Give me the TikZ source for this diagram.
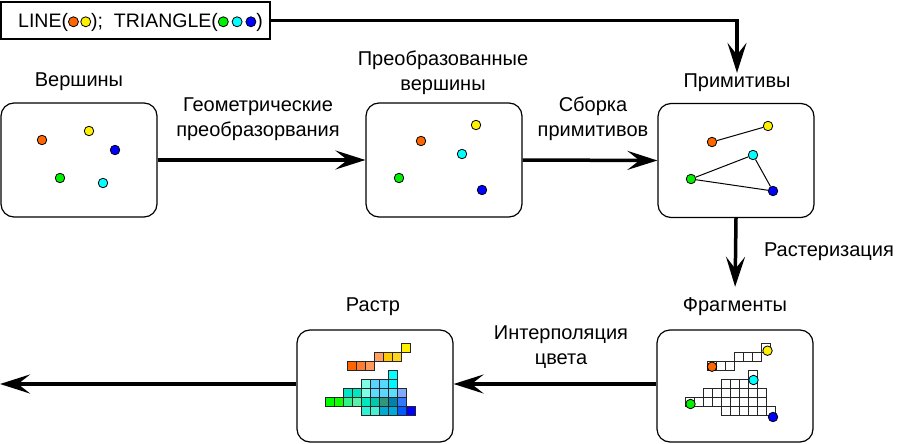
\documentclass[tikz,border=0pt]{standalone}
\usepackage{fontspec}
\setmainfont{Liberation Sans}
\usetikzlibrary{arrows.meta}
\definecolor{dO}{HTML}{FF6600}
\definecolor{dY}{HTML}{FFF000}
\definecolor{dG}{HTML}{00F000}
\definecolor{dC}{HTML}{00FFFF}
\definecolor{dB}{HTML}{0000FF}
\newcommand\tdot[1]{\tikz[baseline=-0.27em]\node[circle,draw,line width=0.8pt,fill=#1,inner sep=0pt,minimum size=10pt]{};}
\newcommand\cellL[3]{\definecolor{tmpc}{HTML}{#3}\filldraw[cell,fill=tmpc] ({28.7+9*(#2)},{13+9*(#1-1)}) rectangle ++(9,9);}
\newcommand\cellU[3]{\definecolor{tmpc}{HTML}{#3}\filldraw[cell,fill=tmpc] ({50.3+9*(#2)},{13+9*(#1-1)}) rectangle ++(9,9);}
\begin{document}
\begin{tikzpicture}[x=1pt,y=-1pt,
  box/.style={draw,line width=1.2pt,rounded corners=13pt,minimum width=156pt,minimum height=114pt,inner sep=0pt},
  lowbox/.style={box,minimum height=112pt},
  lbl/.style={font=\fontsize{20}{25}\selectfont,align=center,inner sep=1pt},
  tlbl/.style={font=\fontsize{19.5}{25}\selectfont,inner sep=1pt},
  dot/.style={circle,draw,line width=0.8pt,inner sep=0pt,minimum size=9.5pt},
  flow/.style={line width=3.5pt,-{Stealth[length=30pt,width=19pt,inset=12pt]}},
  edge/.style={line width=1pt},
  cell/.style={draw=black!85,line width=0.9pt},
]
\useasboundingbox (0,0) rectangle (897,444);

% top legend box
\node[draw,line width=1.2pt,minimum width=269pt,minimum height=37pt,inner sep=0pt] (tb) at (135.5,20.5) {};
\node[tlbl,anchor=west] (tbt) at (17,22) {LINE(\tdot{dO}\hspace{1.5pt}\tdot{dY});\ \ TRIANGLE(\tdot{dG}\hspace{3pt}\tdot{dC}\hspace{3pt}\tdot{dB})};

% boxes
\node[box] (b1) at (79,160) {};
\node[box] (b2) at (444,160) {};
\node[box] (b3) at (736,160.5) {};
\node[lowbox] (fr) at (735,386) {};
\node[lowbox] (ra) at (375,386) {};

% labels
\node[lbl] (l1) at (79,82) {Вершины};
\node[lbl] (l2) at (443,73) {Преобразованные\\вершины};
\node[lbl] (l3) at (737,83) {Примитивы};
\node[lbl] (l4) at (735,307) {Фрагменты};
\node[lbl] (l5) at (373,307) {Растр};
\node[lbl] (a1) at (258,119) {Геометрические\\преобразорвания};
\node[lbl] (a2) at (593,119) {Сборка\\примитивов};
\node[lbl] (a3) at (829,252) {Растеризация};
\node[lbl] (a4) at (561,347) {Интерполяция\\цвета};

% arrows
\coordinate (endL) at (0,384);
\draw[flow] (tb.east) -| (l3.north);
\draw[flow] (b1.east) -- (b2.west);
\draw[flow] (b2.east) -- (b3.west);
\draw[flow,shorten >=10pt] (b3.south) -- (l4.north);
\draw[flow] (fr.west |- 0,384) -- (ra.east |- 0,384);
\draw[flow] (ra.west |- 0,384) -- (endL);

% vertices
\node[dot,fill=dO] (v1o) at (42,140) {};
\node[dot,fill=dY] (v1y) at (89,131) {};
\node[dot,fill=dB] (v1b) at (115,150) {};
\node[dot,fill=dG] (v1g) at (60,178) {};
\node[dot,fill=dC] (v1c) at (103,183) {};

% transformed vertices
\node[dot,fill=dO] (v2o) at (421,141) {};
\node[dot,fill=dY] (v2y) at (476,125) {};
\node[dot,fill=dC] (v2c) at (462,154) {};
\node[dot,fill=dG] (v2g) at (399,178) {};
\node[dot,fill=dB] (v2b) at (482,190) {};

% primitives
\node[dot,fill=dO] (po) at (712,142) {};
\node[dot,fill=dY] (py) at (768,126) {};
\node[dot,fill=dC] (pc) at (753,155) {};
\node[dot,fill=dG] (pg) at (691,179) {};
\node[dot,fill=dB] (pb) at (773,191) {};
\draw[edge] (po) -- (py);
\draw[edge] (pg) -- (pc) -- (pb) -- (pg);

% fragments
\begin{scope}[shift={(657,330)}]
\cellU{1}{6}{FFFFFF}
\foreach \c in {3,4,5} {\cellU{2}{\c}{FFFFFF}}
\foreach \c in {0,1,2} {\cellU{3}{\c}{FFFFFF}}
\cellL{4}{7}{FFFFFF}
\foreach \c in {4,...,7} {\cellL{5}{\c}{FFFFFF}}
\foreach \c in {2,...,8} {\cellL{6}{\c}{FFFFFF}}
\foreach \c in {0,...,8} {\cellL{7}{\c}{FFFFFF}}
\foreach \c in {4,...,9} {\cellL{8}{\c}{FFFFFF}}
\end{scope}
\node[dot,fill=dO] (fo) at (712,366.7) {};
\node[dot,fill=dY] (fy) at (767.5,350.7) {};
\node[dot,fill=dC] (fc) at (753.5,380) {};
\node[dot,fill=dG] (fg) at (690.5,404) {};
\node[dot,fill=dB] (fb) at (773,417) {};

% raster
\begin{scope}[shift={(297,330)}]
\cellU{1}{6}{FFF000}
\foreach \c/\k in {3/FFA060,4/FFC800,5/FFD21E} {\cellU{2}{\c}{\k}}
\foreach \c/\k in {0/FF6400,1/FF7D32,2/FF9A5A} {\cellU{3}{\c}{\k}}
\cellL{4}{7}{00FFFF}
\foreach \c/\k in {4/80FFE6,5/5AD2FF,6/5AD7FF,7/00F5FF} {\cellL{5}{\c}{\k}}
\foreach \c/\k in {2/00E6C8,3/00E6BE,4/80FFE6,5/5ADCFF,6/5AD7FF,7/5ADCFF,8/80AAFF} {\cellL{6}{\c}{\k}}
\foreach \c/\k in {0/00FF00,1/14FF00,2/32F08C,3/5AF0AA,4/00E6BE,5/00C8AA,6/32967D,7/0082AA,8/3278FF} {\cellL{7}{\c}{\k}}
\foreach \c/\k in {4/32F0D2,5/46F0D2,6/00AAD2,7/00AADC,8/005AFF,9/0000FF} {\cellL{8}{\c}{\k}}
\end{scope}
\end{tikzpicture}
\end{document}
